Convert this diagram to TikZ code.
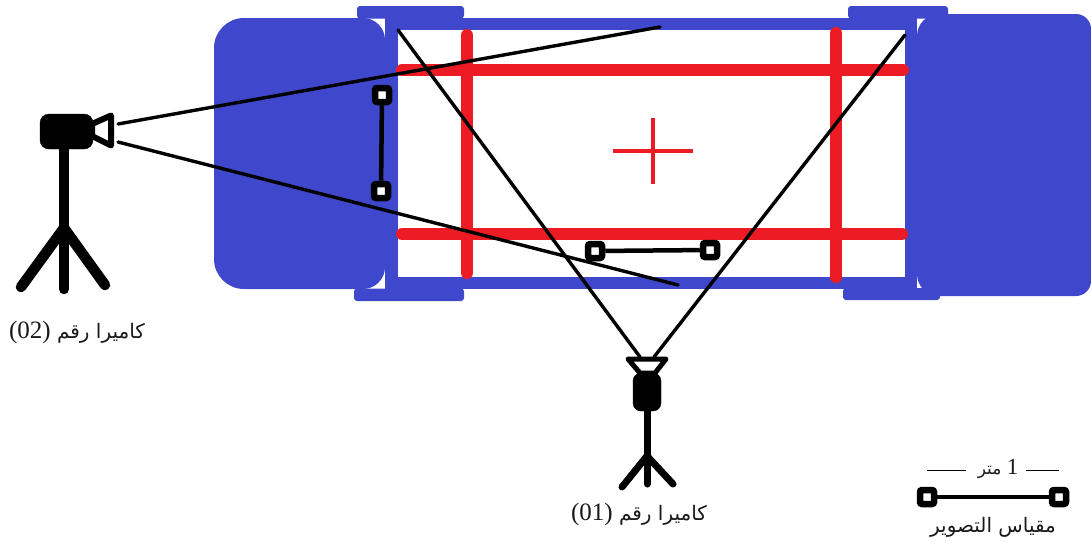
\documentclass[tikz,border=0pt]{standalone}
\usepackage{fontspec}
\setmainfont{Liberation Serif}
\newfontfamily\arabicfont[Script=Arabic]{DejaVu Sans}
\TeXXeTstate=1
\definecolor{carblue}{RGB}{63,72,204}
\definecolor{carred}{RGB}{237,28,36}
\tikzset{
 bluefill/.style={fill=carblue,draw=none},
 redbar/.style={draw=carred,line width=12pt,line cap=round},
 redcross/.style={draw=carred,line width=4pt},
 sight/.style={draw=black,line width=3.4pt,line cap=round},
 camleg/.style={draw=black,line cap=round},
 cambody/.style={fill=black,draw=black,rounded corners=8pt},
 lens/.style={draw=black,fill=white,line join=round},
 scalebar/.style={draw=black,line width=4.5pt},
 scaleend/.style={draw=black,fill=white,line width=6.5pt,rounded corners=2pt,minimum size=14pt,inner sep=0pt,rectangle},
 lbl/.style={font=\fontsize{20}{22}\selectfont,inner sep=0pt,text=black!90},
 lblsmall/.style={font=\fontsize{17}{20}\selectfont,inner sep=0pt,text=black!90},
 lblwide/.style={font=\fontsize{20}{22}\selectfont,inner sep=0pt,text=black!90}
}
\newcommand{\latnum}[2]{\beginL{\rmfamily\fontsize{#1}{22}\selectfont #2}\endL}
\begin{document}
\begin{tikzpicture}[x=1pt,y=-1pt]
\useasboundingbox (0,0) rectangle (1091,541);
% chassis
\fill[bluefill] (385,18) rectangle (917,30);
\fill[bluefill] (385,277) rectangle (917,289);
\fill[bluefill] (385,18) rectangle (398,289);
\fill[bluefill] (905,18) rectangle (917,289);
% wheels
\fill[bluefill] (300,18) [rounded corners=22pt] -- (385,18) -- (385,289) [rounded corners=30pt] -- (214,289) -- (214,18) [sharp corners] -- cycle;
\fill[bluefill] (1000,14) [rounded corners=15pt] -- (1091,14) -- (1091,296) [rounded corners=22pt] -- (917,296) -- (917,14) [sharp corners] -- cycle;
% flanges
\fill[bluefill,rounded corners=3pt] (357,6) rectangle (464,18.5);
\fill[bluefill,rounded corners=3pt] (354,288.5) rectangle (464,301);
\fill[bluefill,rounded corners=3pt] (848,6) rectangle (948,18.5);
\fill[bluefill,rounded corners=3pt] (843,288) rectangle (940,300);
% red frame
\draw[redbar] (402,70) -- (903,70);
\draw[redbar] (402,234) -- (902,234);
\draw[redbar] (467,35) -- (467,273);
\draw[redbar] (836,33) -- (836,277);
\draw[redcross] (613,151) -- (693,151);
\draw[redcross] (653,118) -- (653,184);
% sight lines
\coordinate (c1a) at (398,30);
\coordinate (c1b) at (905,35);
\coordinate (c1l) at (640,357);
\coordinate (c1r) at (654,357);
\coordinate (c2a) at (660,27);
\coordinate (c2b) at (678,285);
\coordinate (c2u) at (118,124);
\coordinate (c2d) at (118,142);
\draw[sight] (c1a) -- (c1l);
\draw[sight] (c1b) -- (c1r);
\draw[sight] (c2a) -- (c2u);
\draw[sight] (c2b) -- (c2d);
% camera 01
\draw[camleg,line width=7pt] (647,405) -- (647,484);
\draw[camleg,line width=7pt] (647,456) -- (622,487);
\draw[camleg,line width=7pt] (647,456) -- (673,484);
\draw[lens,line width=5pt] (628,359) -- (666,359) -- (655,373) -- (640,373) -- cycle;
\draw[cambody] (633,373) rectangle (661,411);
% camera 02
\draw[camleg,line width=10.5pt] (64,145) -- (64,289);
\draw[camleg,line width=10.5pt] (64,228) -- (21,287);
\draw[camleg,line width=10.5pt] (64,228) -- (105,285);
\draw[lens,line width=6pt] (92,124) -- (111,115.5) -- (111,145.5) -- (92,136) -- cycle;
\draw[cambody,rounded corners=9pt] (40,114) rectangle (93,149);
% scales
\node[scaleend] (sa) at (382,95) {};
\node[scaleend] (sb) at (381,191) {};
\draw[scalebar] (sa) -- (sb);
\node[scaleend] (sc) at (595,251) {};
\node[scaleend] (sd) at (710,250) {};
\draw[scalebar] (sc) -- (sd);
\node[scaleend] (se) at (927,497) {};
\node[scaleend] (sf) at (1059,497) {};
\draw[scalebar] (se) -- (sf);
% labels
\node[lbl] (t2) at (77,332) {\arabicfont\beginR كاميرا رقم \latnum{25}{(02)}\endR};
\node[lbl] (t1) at (639,514) {\arabicfont\beginR كاميرا رقم \latnum{25}{(01)}\endR};
\node[lblsmall] (t3) at (998,469) {\arabicfont\beginR \latnum{23}{1}{} متر\endR};
\node[lblwide] (t4) at (993,527) {\arabicfont\beginR مقياس التصوير\endR};
\coordinate (la) at (927,470); \coordinate (lb) at (966,470);
\coordinate (lc) at (1026,470); \coordinate (ld) at (1059,470);
\draw[line width=1pt] (la) -- (lb);
\draw[line width=1pt] (lc) -- (ld);
\end{tikzpicture}
\end{document}
